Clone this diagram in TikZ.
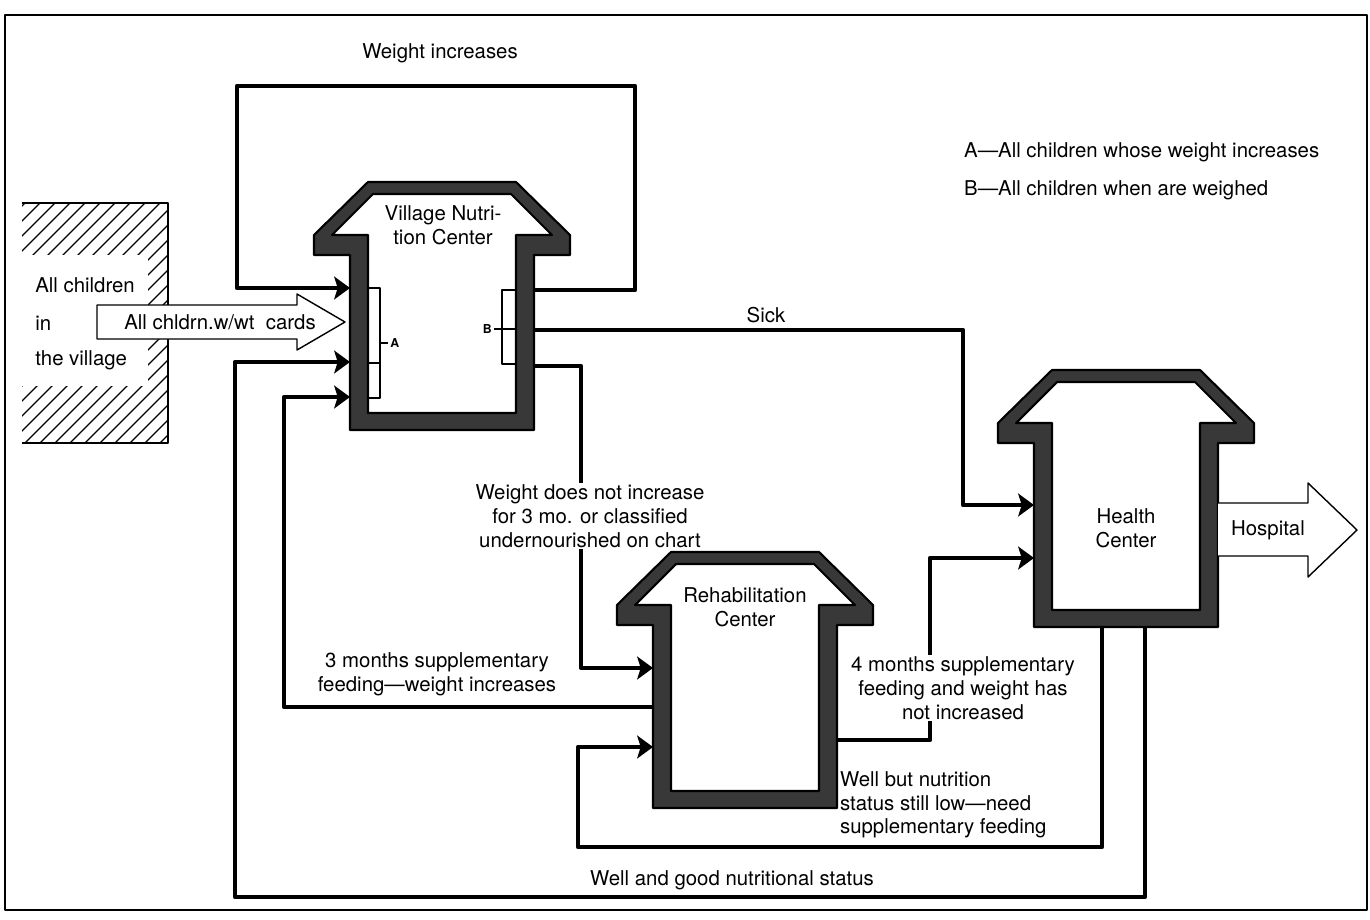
\documentclass[tikz,border=0pt]{standalone}
\usepackage{fontspec}
\setmainfont{TeX Gyre Heros}
\usetikzlibrary{arrows.meta}

% outline of one centre: #1 centre x, #2 roof top y, #3 bottom y
\newcommand{\hut}[3]{%
  \draw[wall] (#1-74,#2)--(#1+74,#2)--(#1+128,#2+53)--(#1+128,#2+73)--(#1+92,#2+73)
    --(#1+92,#3)--(#1-92,#3)--(#1-92,#2+73)--(#1-128,#2+73)--(#1-128,#2+53)--cycle
    (#1-69,#2+12)--(#1+69,#2+12)--(#1+110,#2+53)--(#1+74,#2+53)--(#1+74,#3-17)
    --(#1-74,#3-17)--(#1-74,#2+53)--(#1-110,#2+53)--cycle;}

\begin{document}
\begin{tikzpicture}[x=0.02cm,y=-0.02cm,line join=round,
    >={Stealth[length=9pt,width=13pt,inset=2pt]},
    font=\fontsize{11.6}{13.5}\selectfont,
    flow/.style={line width=2.7pt},
    wall/.style={draw=black,line width=1.2pt,fill=black!78,even odd rule},
    lbl/.style={align=center,inner sep=1pt},
    wide/.style={draw,fill=white,line width=0.8pt},
    tick/.style={line width=0.7pt}]
  \useasboundingbox (0,0) rectangle (1370,920);
  \draw[line width=0.8pt] (5,15) rectangle (1367,910);

  % the village
  \begin{scope}
    \clip (22,203) rectangle (168,443);
    \foreach \k in {0,15,...,400} \draw[line width=0.7pt] (\k-230,443) -- ++(260,-260);
  \end{scope}
  \fill[white] (22,255) rectangle (148,386);
  \draw[line width=0.8pt] (22,203) -- (168,203) -- (168,443) -- (22,443);
  \node[anchor=west,inner sep=0pt] (vil1) at (35,285) {All children};
  \node[anchor=west,inner sep=0pt] (vil2) at (35,323) {in};
  \node[anchor=west,inner sep=0pt] (vil3) at (35,360) {the village};

  % wall points
  \coordinate (vnc-l1) at (350,288);
  \coordinate (vnc-l2) at (350,362);
  \coordinate (vnc-l3) at (350,397);
  \coordinate (vnc-r1) at (534,290);
  \coordinate (vnc-r2) at (534,330);
  \coordinate (vnc-r3) at (534,366);
  \coordinate (rc-l1) at (653,668);
  \coordinate (rc-l2) at (653,707);
  \coordinate (rc-l3) at (653,747);
  \coordinate (rc-r1) at (837,740);
  \coordinate (hc-l1) at (1034,505);
  \coordinate (hc-l2) at (1034,558);
  \coordinate (hc-b1) at (1102,627);
  \coordinate (hc-b2) at (1145,627);

  % flows
  \draw[flow,->] (vnc-r1) -- (635,290) |- (237,86) |- (vnc-l1);
  \draw[flow,->] (vnc-r2) -- (963,330) |- (hc-l1);
  \draw[flow,->] (vnc-r3) -- (581,366) |- (rc-l1);
  \draw[flow,->] (rc-l2) -- (284,707) |- (vnc-l3);
  \draw[flow,->] (hc-b2) |- (235,897) |- (vnc-l2);
  \draw[flow,->] (hc-b1) |- (578,847) |- (rc-l3);
  \draw[flow,->] (rc-r1) -- (930,740) |- (hc-l2);

  % centres
  \hut{442}{182}{430}
  \hut{745}{552}{808}
  \hut{1126}{370}{627}
  \node[lbl] (vnc) at (443,225) {Village Nutri-\\tion Center};
  \node[lbl] (rc) at (745,607) {Rehabilitation\\Center};
  \node[lbl] (hc) at (1126,528) {Health\\Center};

  % brackets
  \draw[tick] (368,288) -- (380,288) -- (380,398) -- (368,398);
  \draw[tick] (368,363) -- (380,363);
  \draw[tick] (380,343) -- (388,343) node[right,inner sep=1pt,font=\fontsize{7}{8}\selectfont\bfseries] (labA) {A};
  \draw[tick] (516,290) -- (502,290) -- (502,364) -- (516,364);
  \draw[tick] (494,329) -- (516,329) node[pos=0,left,inner sep=1pt,font=\fontsize{7}{8}\selectfont\bfseries] (labB) {B};

  % wide arrows
  \draw[wide] (97,305) -- (297,305) -- (297,294) -- (345,322) -- (297,350) -- (297,339) -- (97,339) -- cycle;
  \node (cards) at (220,322) {All chldrn.w/wt\ \ cards};
  \draw[wide] (1218,503) -- (1308,503) -- (1308,483) -- (1357,530) -- (1308,577) -- (1308,556) -- (1218,556);
  \node (hosp) at (1268,530) {Hospital};

  % flow texts
  \node (wtup) at (440,53) {Weight increases};
  \node (sick) at (766,315) {Sick};
  \node[lbl,fill=white] (noinc) at (590,516) {Weight does not increase\\for 3 mo. or classified\\undernourished on chart};
  \node[lbl] (three) at (437,674) {3 months supplementary\\feeding---weight increases};
  \node[lbl,fill=white] (four) at (963,688) {4 months supplementary\\feeding and weight has\\not increased};
  \node[lbl,align=left,anchor=west] (well) at (838,805) {Well but nutrition\\status still low---need\\supplementary feeding};
  \node (good) at (732,880) {Well and good nutritional status};

  % key
  \node[anchor=west] (keyA) at (958,152) {A---All children whose weight increases};
  \node[anchor=west] (keyB) at (958,190) {B---All children when are weighed};
\end{tikzpicture}
\end{document}
